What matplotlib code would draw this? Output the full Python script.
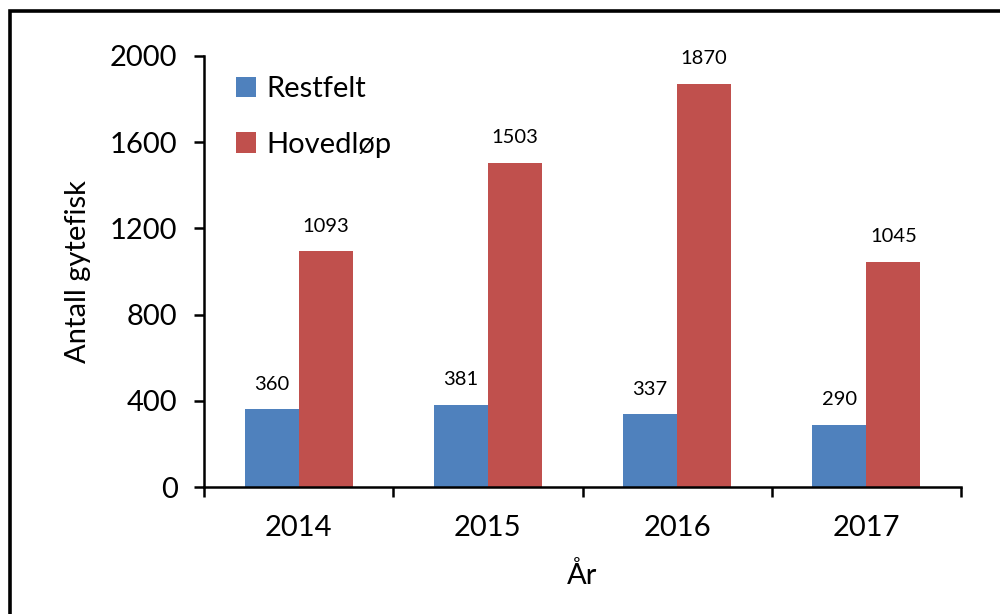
import matplotlib.pyplot as plt
import numpy as np
from matplotlib.patches import Rectangle

plt.rcParams['font.family'] = ['Lato', 'DejaVu Sans']

years = ['2014', '2015', '2016', '2017']
restfelt = [360, 381, 337, 290]
hovedlop = [1093, 1503, 1870, 1045]

fig = plt.figure(figsize=(10, 6.14), dpi=100)
ax = fig.add_axes([0.204, 0.2068, 0.757, 0.702])

# ramme rundt figuren (kuttet i høyre og nedre kant)
fig.patches.append(Rectangle((0.0095, -0.5), 2, 1.4822, transform=fig.transFigure,
                             fill=False, edgecolor='black', linewidth=2.6))

x = np.arange(len(years))
w = 0.2857
b1 = ax.bar(x - w/2, restfelt, w, color='#4F81BD', label='Restfelt')
b2 = ax.bar(x + w/2, hovedlop, w, color='#C0504D', label='Hovedløp')

for bars, vals in ((b1, restfelt), (b2, hovedlop)):
    for r, v in zip(bars, vals):
        ax.annotate(str(v), (r.get_x() + r.get_width()/2, v), xytext=(0, 12),
                    textcoords='offset points', ha='center', va='bottom', fontsize=14.5)

ax.set_xlim(-0.5, 3.5)
ax.set_ylim(0, 2000)
ax.set_yticks([0, 400, 800, 1200, 1600, 2000])
ax.set_xticks(x)
ax.set_xticklabels(years)
ax.set_xticks(np.arange(-0.5, 4, 1), minor=True)
ax.tick_params(axis='x', which='major', length=0, pad=20, labelsize=21)
ax.tick_params(axis='x', which='minor', length=7, width=1.8, direction='out')
ax.tick_params(axis='y', length=7, width=1.8, direction='out', pad=12, labelsize=21)

for s in ('top', 'right'):
    ax.spines[s].set_visible(False)
for s in ('left', 'bottom'):
    ax.spines[s].set_linewidth(1.8)

ax.set_ylabel('Antall gytefisk', fontsize=21, labelpad=14)
ax.set_xlabel('År', fontsize=21, labelpad=15)

ax.legend(loc='upper left', bbox_to_anchor=(0.015, 1.0), frameon=False, fontsize=21,
          handlelength=0.7, handleheight=0.7, handletextpad=0.35, labelspacing=1.0,
          borderaxespad=0.3)

fig.savefig('out.png', dpi=100)
